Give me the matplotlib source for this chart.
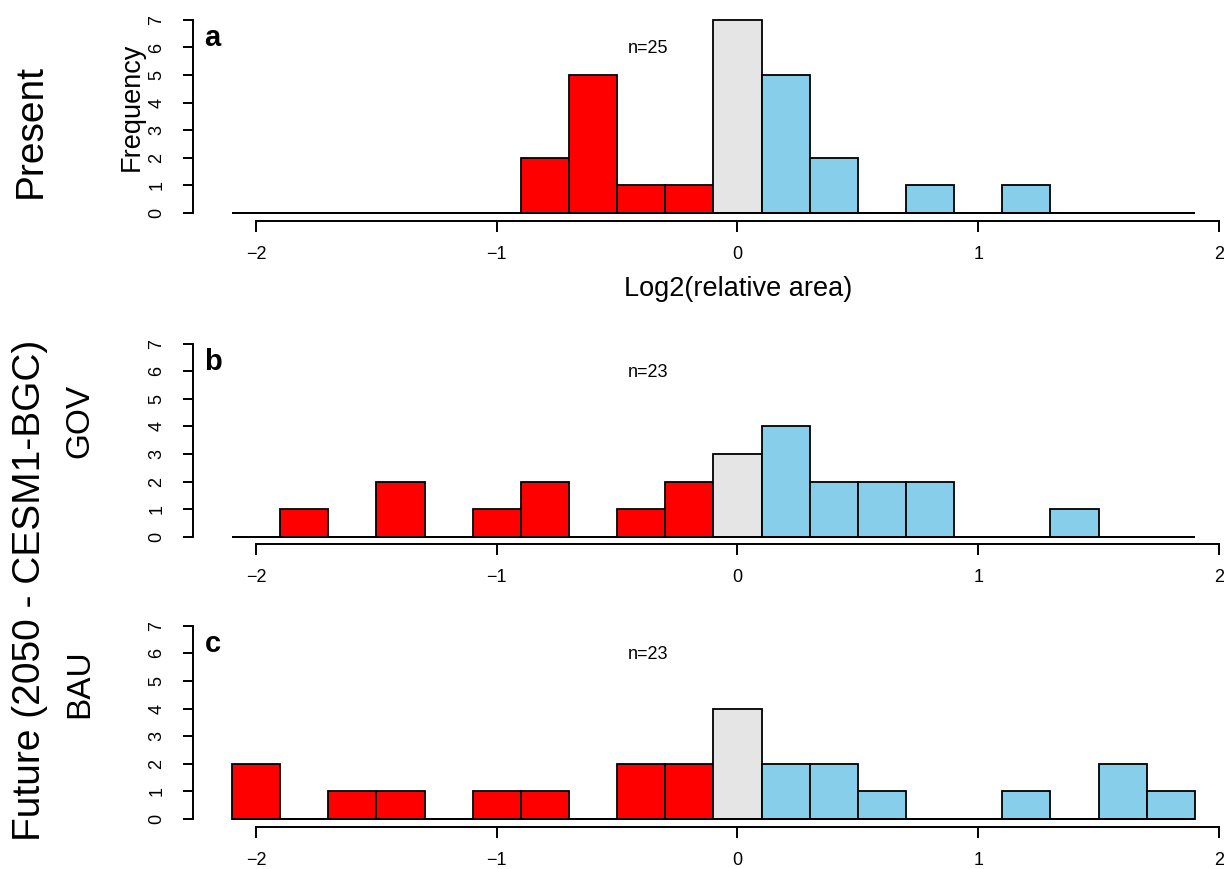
import numpy as np
import matplotlib
matplotlib.use("Agg")
import matplotlib.pyplot as plt

plt.rcParams['font.family'] = ['Liberation Sans', 'DejaVu Sans']

# histogram bins (log2 relative area), width 0.2
bin_edges = np.linspace(-2.1, 1.9, 21)
counts_present = [0, 0, 0, 0, 0, 0, 2, 5, 1, 1, 7, 5, 2, 0, 1, 0, 1, 0, 0, 0]
counts_gov = [0, 1, 0, 2, 0, 1, 2, 0, 1, 2, 3, 4, 2, 2, 2, 0, 0, 1, 0, 0]
counts_bau = [2, 0, 1, 1, 0, 1, 1, 0, 2, 2, 4, 2, 2, 1, 0, 0, 1, 0, 2, 1]
panel_letters = ['a', 'b', 'c']
n_labels = ['n=25', 'n=23', 'n=23']
xticks = [-2, -1, 0, 1, 2]
yticks = [0, 1, 2, 3, 4, 5, 6, 7]

RED = '#FF0000'
GREY = '#E5E5E5'
BLUE = '#87CEEB'

fig = plt.figure(figsize=(12.24, 8.69), dpi=100)

bottoms = [0.746, 0.3735, 0.0487]
all_counts = [counts_present, counts_gov, counts_bau]

centers = (bin_edges[:-1] + bin_edges[1:]) / 2
widths = np.diff(bin_edges)
colors = [GREY if abs(c) < 0.05 else (RED if c < 0 else BLUE) for c in centers]

for i, counts in enumerate(all_counts):
    ax = fig.add_axes([0.158, bottoms[i], 0.8497, 0.240])
    ax.bar(centers, counts, width=widths, color=colors, edgecolor='black',
           linewidth=1.3, zorder=2)
    ax.hlines(0, bin_edges[0], bin_edges[-1], color='black', linewidth=1.3, zorder=3)

    # R-like extended limits (4%)
    span = bin_edges[-1] - bin_edges[0]
    ax.set_xlim(bin_edges[0] - 0.04 * span, bin_edges[-1] + 0.04 * span)
    ax.set_ylim(-0.04 * 7, 7 + 0.04 * 7)

    for s in ['top', 'right']:
        ax.spines[s].set_visible(False)
    ax.spines['left'].set_bounds(0, 7)
    ax.spines['bottom'].set_bounds(-2, 2)
    ax.spines['left'].set_linewidth(1.4)
    ax.spines['bottom'].set_linewidth(1.4)

    ax.set_xticks(xticks)
    ax.set_xticklabels([str(t) if t >= 0 else '\u2212' + str(-t) for t in xticks])
    ax.set_yticks(yticks)
    ax.tick_params(axis='x', length=8, width=1.4, labelsize=13, pad=10)
    ax.tick_params(axis='y', length=7, width=1.4, labelsize=13, pad=13)
    plt.setp(ax.get_yticklabels(), rotation=90, va='center')

    ax.text(-2.18, 6.05, panel_letters[i], fontsize=21, fontweight='bold',
            ha='center', va='baseline')
    ax.text(-0.37, 5.95, n_labels[i], fontsize=13, ha='center', va='center')

# figure-level labels
def px(x, y):
    return x / 1224, 1 - y / 869

fig.text(*px(738, 289), 'Log2(relative area)', fontsize=19.5, ha='center', va='center')
fig.text(*px(132, 107), 'Frequency', fontsize=19.5, rotation=90, ha='center', va='center')
fig.text(*px(31, 131), 'Present', fontsize=28, rotation=90, ha='center', va='center')
fig.text(*px(30, 590), 'Future (2050 - CESM1-BGC)', fontsize=28, rotation=90,
         ha='center', va='center')
fig.text(*px(80, 421), 'GOV', fontsize=24, rotation=90, ha='center', va='center')
fig.text(*px(80, 684), 'BAU', fontsize=24, rotation=90, ha='center', va='center')

fig.savefig('out.png', dpi=100)
